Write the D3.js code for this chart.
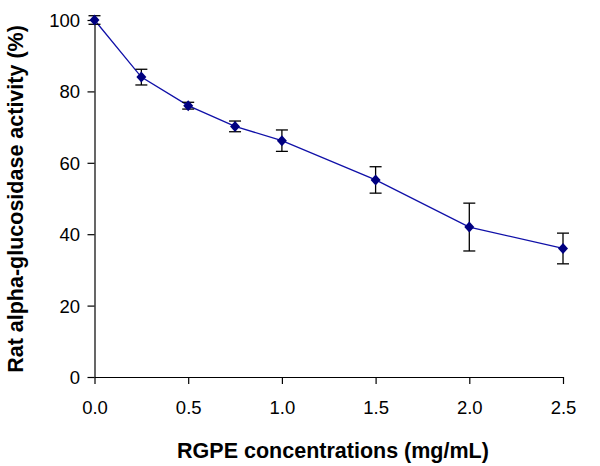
<!DOCTYPE html>
<html><head><meta charset="utf-8">
<script src="https://cdn.jsdelivr.net/npm/d3@7"></script>
<style>body{margin:0;background:#fff}svg{display:block;font-family:"Liberation Sans",Arial,sans-serif}</style>
</head><body>
<svg id="c" width="600" height="466"></svg>
<script>
const concentrations = [0, 0.25, 0.5, 0.75, 1.0, 1.5, 2.0, 2.5];
const activity = [100, 84, 76, 70.2, 66.2, 55.2, 42, 36];
const errors = [1.2, 2.2, 0.95, 1.5, 3.0, 3.7, 6.7, 4.3];
const xTicks = [0, 0.5, 1.0, 1.5, 2.0, 2.5];
const yTicks = [0, 20, 40, 60, 80, 100];

const svg = d3.select("#c");
const x = d3.scaleLinear().domain([0, 2.5]).range([94.5, 563]);
const y = d3.scaleLinear().domain([0, 100]).range([377, 20]);

const gx = svg.append("g").attr("transform", "translate(0,377)")
  .call(d3.axisBottom(x).tickValues(xTicks).tickFormat(d3.format(".1f")).tickSize(7).tickSizeOuter(0));
const gy = svg.append("g").attr("transform", "translate(94.5,0)")
  .call(d3.axisLeft(y).tickValues(yTicks).tickSize(7).tickSizeOuter(0));
[gx, gy].forEach(g => {
  g.selectAll("path,line").attr("stroke", "#000").attr("stroke-width", 1.2);
  g.selectAll("text").attr("font-size", 18.5).attr("fill", "#000")
    .attr("font-family", '"Liberation Sans",Arial,sans-serif');
});
gx.selectAll("text").attr("y", 36.5).attr("dy", 0);
gy.selectAll("text").attr("dx", "-4.5").attr("dy", "0.35em");

// line
svg.append("path").datum(concentrations.map((c, i) => [c, activity[i]]))
  .attr("fill", "none").attr("stroke", "#1010a8").attr("stroke-width", 1.3)
  .attr("d", d3.line().x(d => x(d[0])).y(d => y(d[1])));

// error bars
const eb = svg.append("g").attr("stroke", "#000").attr("stroke-width", 1.3);
concentrations.forEach((c, i) => {
  const cx = x(c), y1 = y(activity[i] + errors[i]), y2 = y(activity[i] - errors[i]);
  eb.append("line").attr("x1", cx).attr("x2", cx).attr("y1", y1).attr("y2", y2);
  eb.append("line").attr("x1", cx - 6).attr("x2", cx + 6).attr("y1", y1).attr("y2", y1);
  eb.append("line").attr("x1", cx - 6).attr("x2", cx + 6).attr("y1", y2).attr("y2", y2);
});

// markers
svg.append("g").selectAll("path").data(concentrations).join("path")
  .attr("transform", (c, i) => `translate(${x(c)},${y(activity[i])})`)
  .attr("d", "M0,-5.5L5,0L0,5.5L-5,0Z")
  .attr("fill", "#000080");

svg.append("text").attr("x", 333).attr("y", 457.5).attr("text-anchor", "middle")
  .attr("font-weight", "bold").attr("font-size", 21.5).text("RGPE concentrations (mg/mL)");
svg.append("text").attr("transform", "translate(23,199) rotate(-90)").attr("text-anchor", "middle")
  .attr("font-weight", "bold").attr("font-size", 21.5).text("Rat alpha-glucosidase activity (%)");
</script>
</body></html>
